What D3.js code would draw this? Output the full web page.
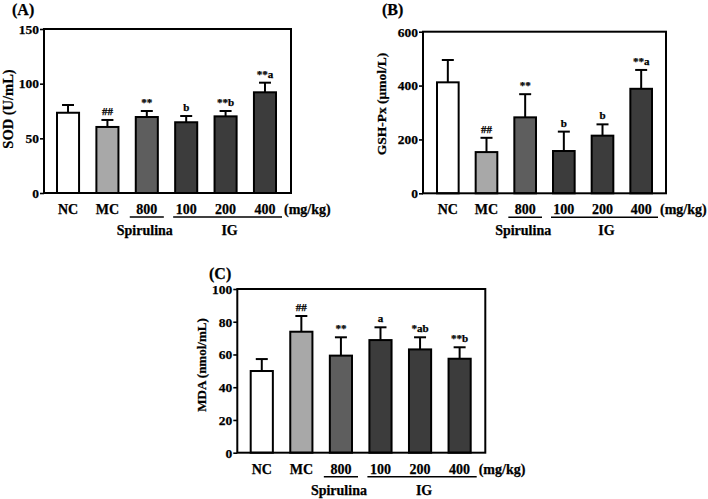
<!DOCTYPE html>
<html>
<head>
<meta charset="utf-8">
<script src="https://cdn.jsdelivr.net/npm/d3@7"></script>
<style>
  body { margin: 0; background: #fff; }
  text { font-family: "Liberation Serif", "Times New Roman", serif; font-weight: bold; stroke: #000; stroke-width: 0.25px; }
</style>
</head>
<body>
<svg width="708" height="499"></svg>
<script>
// groups and doses
var groups = ["NC", "MC", "800", "100", "200", "400"];
var fills = ["#ffffff", "#a8a8a8", "#5e5e5e", "#3c3c3c", "#3c3c3c", "#3c3c3c"];

// (A) SOD
var sodMean = [73.4, 60.4, 69.5, 64.7, 70.1, 92.1];
var sodSd = [7.1, 6.4, 5.5, 5.7, 4.9, 8.8];
var sodMarks = ["", "##", "**", "b", "**b", "**a"];
var sodTicks = [0, 50, 100, 150];

// (B) GSH-Px
var gshMean = [412, 153, 282, 157, 214, 388];
var gshSd = [83, 53, 86, 72, 42, 70];
var gshMarks = ["", "##", "**", "b", "b", "**a"];
var gshTicks = [0, 200, 400, 600];

// (C) MDA
var mdaMean = [49.9, 73.9, 59.3, 68.8, 63.1, 57.4];
var mdaSd = [7.3, 9.6, 11.2, 7.8, 7.4, 7.0];
var mdaMarks = ["", "##", "**", "a", "*ab", "**b"];
var mdaTicks = [0, 20, 40, 60, 80, 100];

var svg = d3.select("svg");

function Panel(opt) {
    var g = svg.append("g");

    var x = d3.scaleBand()
        .domain(groups)
        .range([opt.barLeft, opt.barRight])
        .paddingInner(0.44)
        .paddingOuter(0);
    var y = d3.scaleLinear()
        .domain([0, opt.max])
        .range([opt.bottom, opt.top]);

    // y axis (ticks + labels only, the box is drawn below)
    var ax = g.append("g")
        .attr("transform", `translate(${opt.left},0)`)
        .call(d3.axisLeft(y).tickValues(opt.ticks).tickSize(4).tickPadding(1).tickFormat(d3.format("d")));
    ax.select(".domain").remove();
    ax.selectAll("line").attr("stroke", "#000").attr("stroke-width", 1.6);
    ax.selectAll("text")
        .attr("font-size", 13.5)
        .attr("fill", "#000")
        .attr("font-family", "Liberation Serif, serif")
        .attr("font-weight", "bold");

    var bars = g.append("g").selectAll("g")
        .data(groups.map((d, i) => ({g: d, m: opt.mean[i], sd: opt.sd[i], mark: opt.marks[i], fill: fills[i]})))
        .join("g");

    // error bars (upper only)
    bars.append("line")
        .attr("x1", d => x(d.g) + x.bandwidth() / 2)
        .attr("x2", d => x(d.g) + x.bandwidth() / 2)
        .attr("y1", d => y(d.m))
        .attr("y2", d => y(d.m + d.sd))
        .attr("stroke", "#000")
        .attr("stroke-width", 2);
    bars.append("line")
        .attr("x1", d => x(d.g) + x.bandwidth() / 2 - 6)
        .attr("x2", d => x(d.g) + x.bandwidth() / 2 + 6)
        .attr("y1", d => y(d.m + d.sd))
        .attr("y2", d => y(d.m + d.sd))
        .attr("stroke", "#000")
        .attr("stroke-width", 2);

    bars.append("rect")
        .attr("x", d => x(d.g))
        .attr("width", x.bandwidth())
        .attr("y", d => y(d.m))
        .attr("height", d => y(0) - y(d.m))
        .attr("fill", d => d.fill)
        .attr("stroke", "#000")
        .attr("stroke-width", 2);

    bars.append("text")
        .attr("x", d => x(d.g) + x.bandwidth() / 2)
        .attr("y", d => y(d.m + d.sd) - 5)
        .attr("text-anchor", "middle")
        .attr("font-size", 11)
        .text(d => d.mark);

    // box
    g.append("rect")
        .attr("x", opt.left)
        .attr("y", opt.top)
        .attr("width", opt.right - opt.left)
        .attr("height", opt.bottom - opt.top)
        .attr("fill", "none")
        .attr("stroke", "#000")
        .attr("stroke-width", 2);

    // category labels
    g.append("g").selectAll("text")
        .data(groups)
        .join("text")
        .attr("x", d => x(d) + x.bandwidth() / 2)
        .attr("y", opt.bottom + 21)
        .attr("text-anchor", "middle")
        .attr("font-size", 14)
        .text(d => d);
    g.append("text")
        .attr("x", x("400") + x.bandwidth() + 8)
        .attr("y", opt.bottom + 21)
        .attr("font-size", 14)
        .text("(mg/kg)");

    // group underlines
    g.append("line")
        .attr("x1", x("800") - 6).attr("x2", x("800") + x.bandwidth() + 6)
        .attr("y1", opt.bottom + 24).attr("y2", opt.bottom + 24)
        .attr("stroke", "#000").attr("stroke-width", 1.6);
    g.append("line")
        .attr("x1", x("100") - 2).attr("x2", x("400") + x.bandwidth() + 6)
        .attr("y1", opt.bottom + 24).attr("y2", opt.bottom + 24)
        .attr("stroke", "#000").attr("stroke-width", 1.6);
    g.append("text")
        .attr("x", x("800") + x.bandwidth() / 2 - 2)
        .attr("y", opt.bottom + 42)
        .attr("text-anchor", "middle")
        .attr("font-size", 14)
        .text("Spirulina");
    g.append("text")
        .attr("x", x("200") + x.bandwidth() / 2 + 4)
        .attr("y", opt.bottom + 42)
        .attr("text-anchor", "middle")
        .attr("font-size", 14)
        .text("IG");

    // y label
    g.append("text")
        .attr("transform", `translate(${opt.yLabelX},${opt.yLabelY}) rotate(-90)`)
        .attr("text-anchor", "middle")
        .attr("dy", "0.33em")
        .attr("font-size", opt.yLabelSize)
        .text(opt.yLabel);

    // panel letter
    g.append("text")
        .attr("x", opt.tagX)
        .attr("y", opt.tagY)
        .attr("font-size", 16)
        .text(opt.tag);
}

Panel({
    tag: "(A)", tagX: 12, tagY: 15,
    left: 44, right: 291, top: 29, bottom: 193,
    barLeft: 57, barRight: 276,
    max: 150, ticks: sodTicks,
    mean: sodMean, sd: sodSd, marks: sodMarks,
    yLabel: "SOD (U/mL)", yLabelX: 8, yLabelY: 109, yLabelSize: 14.5
});

Panel({
    tag: "(B)", tagX: 382, tagY: 15,
    left: 423, right: 666, top: 31.7, bottom: 193.3,
    barLeft: 437, barRight: 652,
    max: 600, ticks: gshTicks,
    mean: gshMean, sd: gshSd, marks: gshMarks,
    yLabel: "GSH-Px (μmol/L)", yLabelX: 382, yLabelY: 104, yLabelSize: 13.5
});

Panel({
    tag: "(C)", tagX: 209, tagY: 279,
    left: 237.3, right: 485.3, top: 289, bottom: 452.7,
    barLeft: 250.7, barRight: 470.7,
    max: 100, ticks: mdaTicks,
    mean: mdaMean, sd: mdaSd, marks: mdaMarks,
    yLabel: "MDA (nmol/mL)", yLabelX: 202, yLabelY: 365, yLabelSize: 13
});
</script>
</body>
</html>
